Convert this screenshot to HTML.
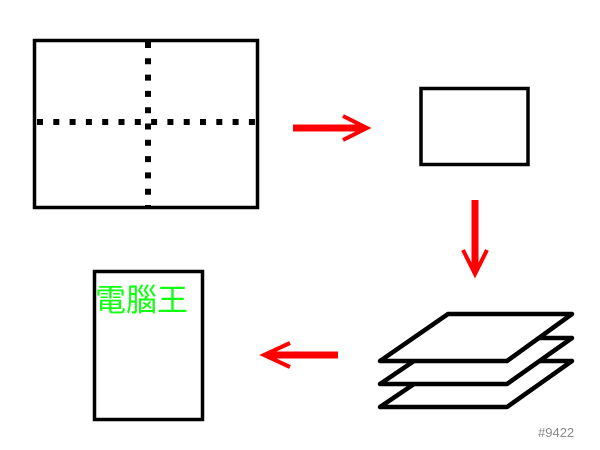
<!DOCTYPE html>
<html><head><meta charset="utf-8"><style>body{margin:0;background:#fff}svg{display:block}</style></head><body>
<svg width="600" height="450" xmlns="http://www.w3.org/2000/svg">
<rect x="34.5" y="40.5" width="223" height="167" fill="#fff" stroke="#000" stroke-width="3.5"/>
<line x1="148" y1="42" x2="148" y2="207" stroke="#000" stroke-width="6" stroke-dasharray="6 10.3"/>
<line x1="37" y1="122" x2="255" y2="122" stroke="#000" stroke-width="6" stroke-dasharray="6 10.3"/>
<g stroke="#f00" fill="none" stroke-linecap="butt">
<line x1="293" y1="128" x2="364" y2="128" stroke-width="7"/>
<polyline points="343,116 367,128 343,140" stroke-width="4"/>
<line x1="475" y1="200" x2="475" y2="271" stroke-width="7"/>
<polyline points="463,250 475,274 487,250" stroke-width="4"/>
<line x1="338" y1="355" x2="267" y2="355" stroke-width="7"/>
<polyline points="290,343 264,355 290,367" stroke-width="4"/>
</g>
<rect x="421" y="88.5" width="107" height="76" fill="#fff" stroke="#000" stroke-width="3.5"/>
<g stroke="#000" stroke-width="4.5" stroke-linejoin="round" fill="#fff">
<polygon points="448,361 572,361 507,407 380,407"/>
<polygon points="448,338 572,338 507,384 380,384"/>
<polygon points="448,314 572,314 507,361 380,361"/>
</g>
<rect x="94.5" y="271.5" width="108" height="148" fill="#fff" stroke="#000" stroke-width="3.5"/>
<text x="95" y="311" font-family="Liberation Sans, WenQuanYi Zen Hei, sans-serif" font-size="31" fill="#1f1">電腦王</text>
<text x="538" y="437" font-family="Liberation Sans, sans-serif" font-size="13" fill="#888">#9422</text>
</svg>
</body></html>
